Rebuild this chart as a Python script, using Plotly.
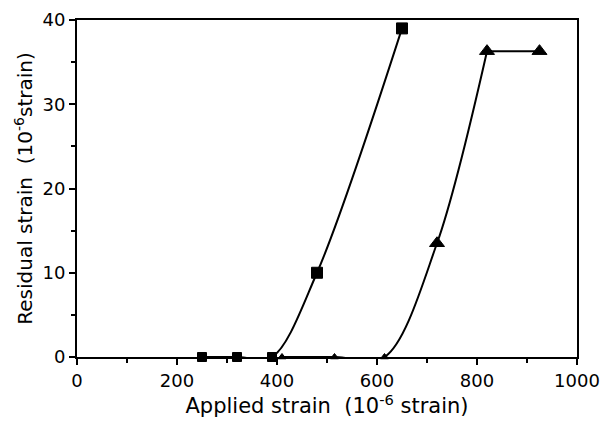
import plotly.graph_objects as go

sq_x = [250, 320, 390, 480, 650]
sq_y = [0, 0, 0, 10, 39]
tri_x = [410, 515, 615, 720, 820, 925]
tri_y = [0, 0, 0, 13.5, 36.3, 36.3]

x_ticks = [0, 200, 400, 600, 800, 1000]
y_ticks = [0, 10, 20, 30, 40]

FONT = "DejaVu Sans"
fig = go.Figure()

fig.add_trace(go.Scatter(x=sq_x, y=sq_y, mode="lines",
                         line=dict(color="black", width=2, shape="spline", smoothing=0.9),
                         showlegend=False, hoverinfo="skip"))
fig.add_trace(go.Scatter(x=tri_x[:5], y=tri_y[:5], mode="lines",
                         line=dict(color="black", width=2, shape="spline", smoothing=0.9),
                         showlegend=False, hoverinfo="skip"))
fig.add_trace(go.Scatter(x=tri_x[4:], y=tri_y[4:], mode="lines",
                         line=dict(color="black", width=2),
                         showlegend=False, hoverinfo="skip"))
fig.add_trace(go.Scatter(x=sq_x, y=sq_y, mode="markers",
                         marker=dict(symbol="square", color="black", opacity=1,
                                     size=[11 if v > 0 else 9 for v in sq_y],
                                     line=dict(color="black", width=1)),
                         showlegend=False, cliponaxis=False))
fig.add_trace(go.Scatter(x=tri_x, y=tri_y, mode="markers",
                         marker=dict(symbol="triangle-up", color="black", opacity=1,
                                     size=[13 if v > 0 else 7 for v in tri_y],
                                     line=dict(color="black", width=1)),
                         showlegend=False, cliponaxis=False))

fig.update_layout(
    width=612, height=427,
    margin=dict(l=69, r=43, t=12, b=78),
    paper_bgcolor="white", plot_bgcolor="white",
    font=dict(family=FONT, color="black", size=18),
    xaxis=dict(range=[0, 1000], tickvals=x_ticks, ticktext=[str(v) for v in x_ticks],
               ticks="outside", ticklen=6, tickwidth=2, tickcolor="black", automargin=False,
               minor=dict(dtick=100, ticks="outside", ticklen=4, tickwidth=2, tickcolor="black"),
               showline=True, linecolor="black", linewidth=2, mirror=True, showgrid=False, zeroline=False,
               title=dict(text="Applied strain  (10<sup>-6</sup> strain)", font=dict(size=21), standoff=9)),
    yaxis=dict(range=[0, 40], tickvals=y_ticks, ticktext=[str(v) for v in y_ticks],
               ticks="outside", ticklen=6, tickwidth=2, tickcolor="black", automargin=False,
               minor=dict(dtick=5, ticks="outside", ticklen=4, tickwidth=2, tickcolor="black"),
               showline=True, linecolor="black", linewidth=2, mirror=True, showgrid=False, zeroline=False,
               title=dict(text="Residual strain  (10<sup>-6</sup>strain)", font=dict(size=20), standoff=4)),
)

fig.write_html("out.html")
